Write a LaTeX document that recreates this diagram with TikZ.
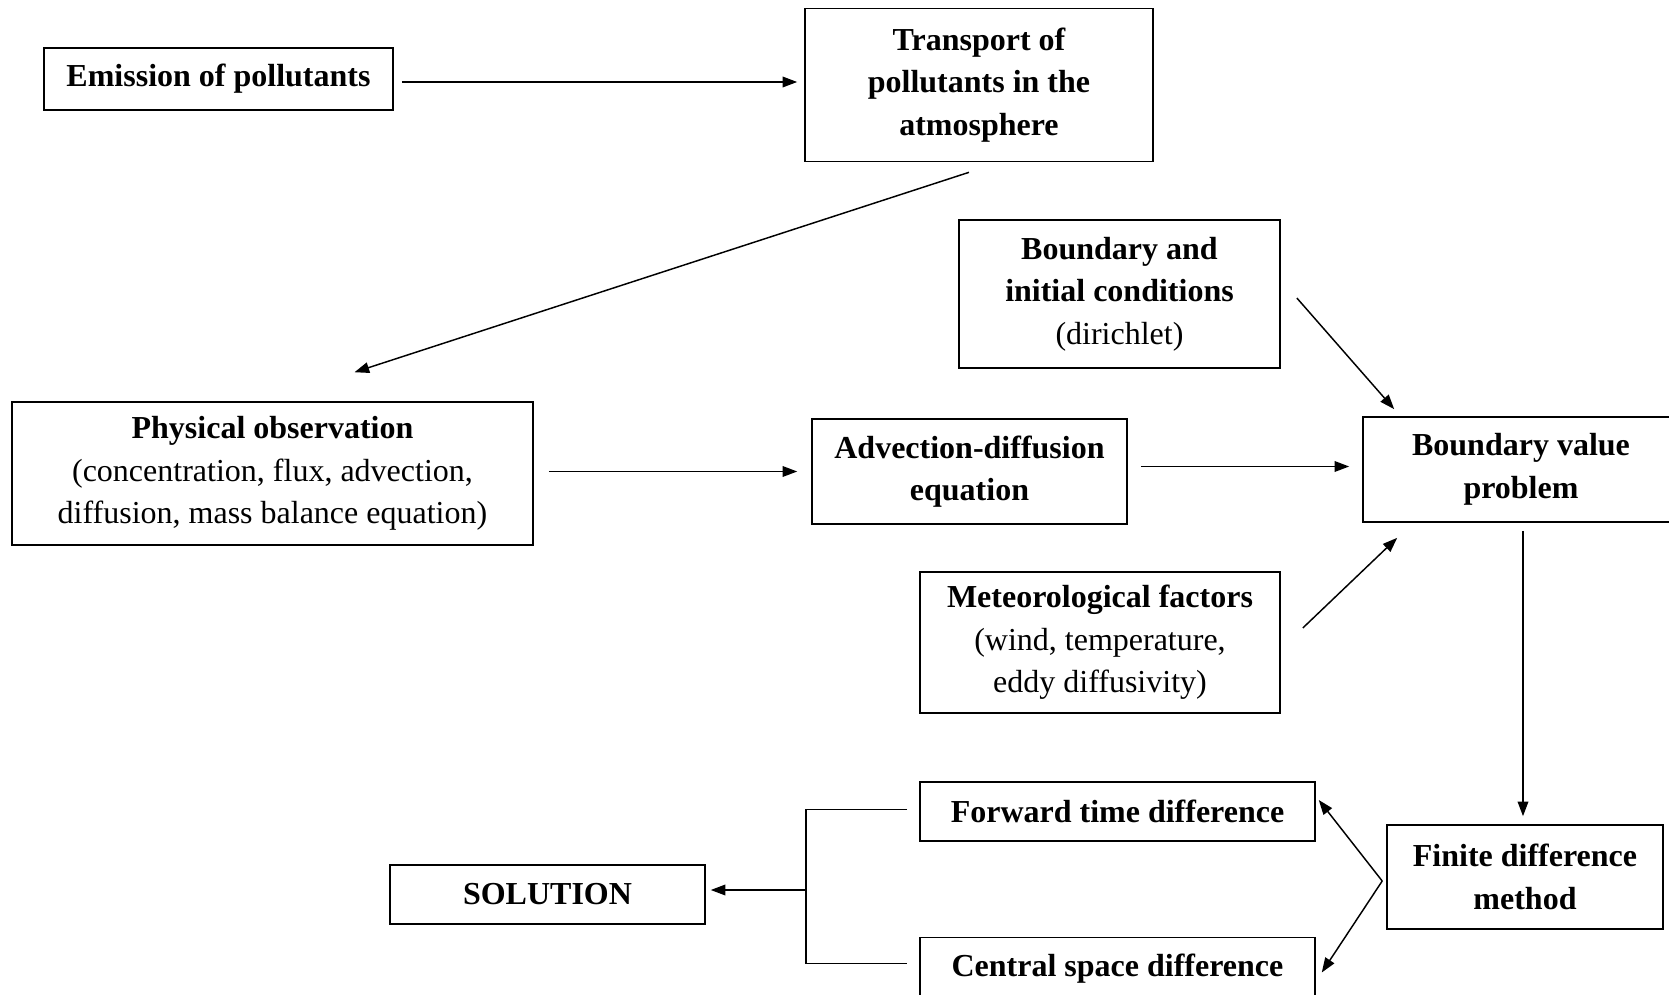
\documentclass[tikz,border=0pt]{standalone}
\usepackage{fontspec}
\setmainfont{Liberation Serif}
\usepackage{tikz}
\usetikzlibrary{arrows.meta,calc}

\begin{document}
\begin{tikzpicture}[
  x=0.375pt,y=-0.375pt,
  font=\fontsize{12}{16}\selectfont\bfseries,
  box/.style={draw,line width=0.6pt,fill=white,inner sep=0pt,align=center},
  arr/.style={-{Triangle[length=5.5pt,width=4pt]},line width=0.55pt}
]
\useasboundingbox (0,0) rectangle (1669,995);

\node[box,minimum width=130.9pt,minimum height=23.25pt] (emis) at (218.5,79) {Emission of pollutants};
\node[box,minimum width=130.5pt,minimum height=57.4pt] (trans) at (979,85) {Transport of\\pollutants in the\\atmosphere};
\node[box,minimum width=120.4pt,minimum height=55.5pt] (bic) at (1119.5,294) {Boundary and\\initial conditions\\\mdseries(dirichlet)};
\node[box,minimum width=195.4pt,minimum height=53.6pt] (phys) at (272.5,473.5) {Physical observation\\\mdseries(concentration, flux, advection,\\\mdseries diffusion, mass balance equation)};
\node[box,minimum width=118.1pt,minimum height=39.4pt] (adv) at (969.5,471.5) {Advection-diffusion\\equation};
\node[box,minimum width=118.5pt,minimum height=39.4pt] (bvp) at (1521,469.5) {Boundary value\\problem};
\node[box,minimum width=135pt,minimum height=52.9pt] (met) at (1100,642.5) {Meteorological factors\\\mdseries(wind, temperature,\\\mdseries eddy diffusivity)};
\node[box,minimum width=148.1pt,minimum height=22.1pt] (fwd) at (1117.5,811.5) {Forward time difference};
\node[box,minimum width=148.1pt,minimum height=23.25pt] (cen) at (1117.5,968.5) {Central space difference};
\node[box,minimum width=103.5pt,minimum height=39pt] (fdm) at (1525,877) {Finite difference\\method};
\node[box,minimum width=118.1pt,minimum height=22.1pt] (sol) at (547.5,894.5) {SOLUTION};
\coordinate (split) at (806,890);

\draw[arr] ($(emis.east)+(8,3)$) -- ($(emis.east -| trans.west)+(-7,3)$);
\draw[arr] ($(trans.south)+(-10,10)$) -- ($(phys.north)+(82,-29)$);
\draw[arr] ($(bic.east)+(16,4)$) -- ($(bvp.north west)+(32,-7)$);
\draw[arr] ($(phys.east)+(15,-2)$) -- ($(phys.east -| adv.west)+(-14,-2)$);
\draw[arr] ($(adv.east)+(13,-5)$) -- ($(adv.east -| bvp.west)+(-13,-5)$);
\draw[arr] ($(met.east)+(22,-14.5)$) -- ($(bvp.south west)+(35,15)$);
\draw[arr] ($(bvp.south)+(2,8)$) -- ($(fdm.north)+(-2,-8)$);
\draw[arr] ($(fdm.west)+(-4,4)$) -- ($(fwd.east)+(3,-11.5)$);
\draw[arr] ($(fdm.west)+(-4,4)$) -- ($(cen.east)+(6,4)$);
\draw[line width=0.55pt] ($(fwd.west)+(-12,-2)$) -| (split) |- ($(cen.west)+(-12,-5)$);
\draw[arr] (split) -- ($(split -| sol.east)+(5,0)$);
\end{tikzpicture}
\end{document}
